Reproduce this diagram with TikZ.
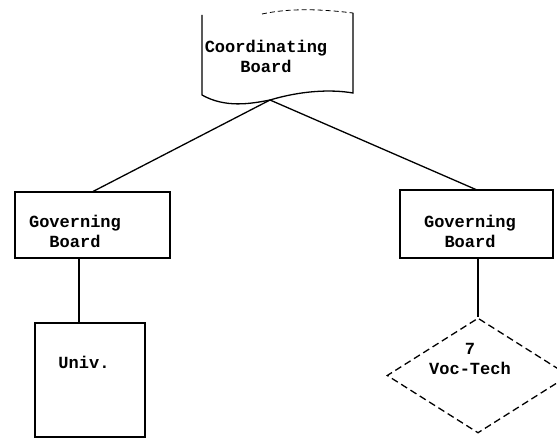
\documentclass[tikz,border=0pt]{standalone}
\usepackage{fontspec}
\setmonofont{Liberation Mono}
\usetikzlibrary{shapes.geometric}
\begin{document}
\begin{tikzpicture}[x=1pt,y=-1pt,line width=1.3pt,
  box/.style={draw,rectangle,inner sep=0pt},
  lbl/.style={font=\ttfamily\bfseries\fontsize{17}{20}\selectfont,align=center,inner sep=0pt}]
\useasboundingbox (0,0) rectangle (557,444);
\fill[white] (0,0) rectangle (557,444);
\clip (0,0) rectangle (557,444);
% Coordinating board (document shape)
\draw (202,15) -- (202,95) .. controls (225,108) and (250,104) .. (270,100)
      .. controls (300,91) and (330,89) .. (353,93) -- (353,13);
\draw[line width=0.8pt,dash pattern=on 5pt off 3pt] (262,14) .. controls (290,8) and (320,9) .. (353,13);
\coordinate (cb) at (270,100);
\node[lbl] (cbt) at (266,56) {Coordinating\\Board};
% Governing boards
\node[box,minimum width=155pt,minimum height=66pt] (gl) at (92.5,225) {};
\node[lbl] (glt) at (75,231) {Governing\\Board};
\node[box,minimum width=153pt,minimum height=68pt] (gr) at (476.5,224) {};
\node[lbl] (grt) at (470,231) {Governing\\Board};
% Univ
\node[box,minimum width=110pt,minimum height=114pt] (un) at (90,380) {};
\node[lbl] (unt) at (84,362) {Univ.};
% Voc-Tech diamond
\node[draw,dash pattern=on 7pt off 4pt,diamond,minimum width=182pt,minimum height=115pt,inner sep=0pt] (vt) at (478,375.5) {};
\node[lbl] (vtt) at (470,359) {7\\Voc-Tech};
% connectors
\draw (cb) -- (92,192);
\draw (cb) -- (477,190);
\draw (79,258) -- (un.north -| 79,0);
\draw (gr.south -| 478,0) -- (vt.north);
\end{tikzpicture}
\end{document}
